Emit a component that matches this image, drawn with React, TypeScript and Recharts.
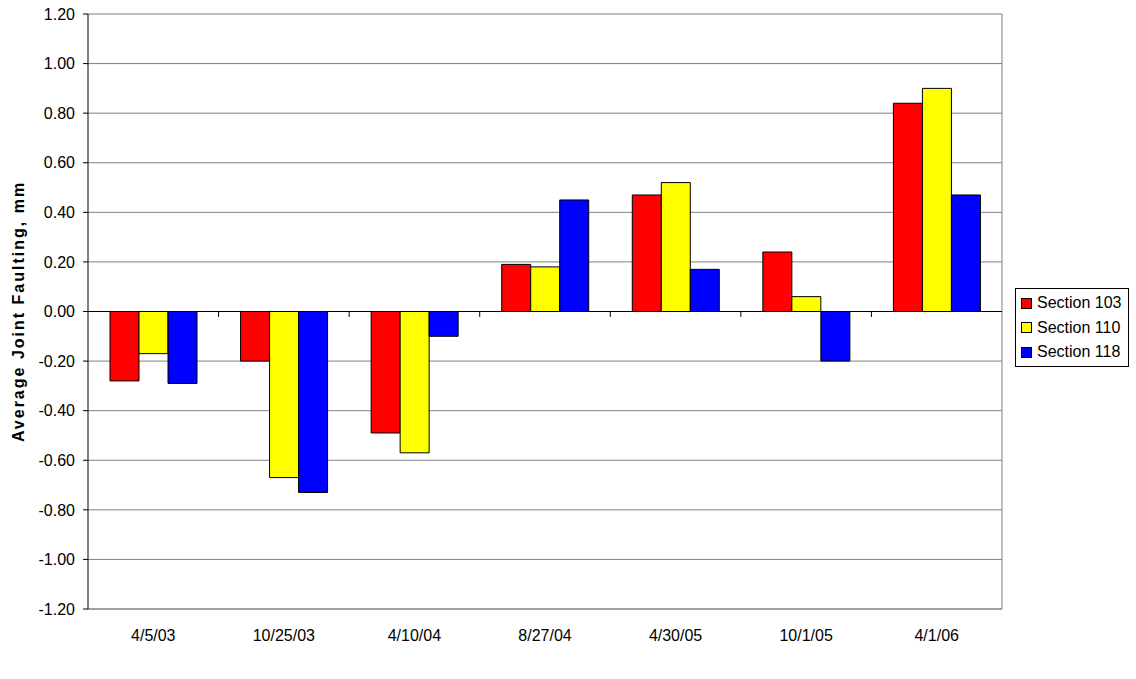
import React from "react";
import { BarChart, Bar, XAxis, YAxis, CartesianGrid, ReferenceLine } from "recharts";

const dates = ["4/5/03", "10/25/03", "4/10/04", "8/27/04", "4/30/05", "10/1/05", "4/1/06"];
const section103 = [-0.28, -0.2, -0.49, 0.19, 0.47, 0.24, 0.84];
const section110 = [-0.17, -0.67, -0.57, 0.18, 0.52, 0.06, 0.9];
const section118 = [-0.29, -0.73, -0.1, 0.45, 0.17, -0.2, 0.47];
const yTicks = [-1.2, -1.0, -0.8, -0.6, -0.4, -0.2, 0, 0.2, 0.4, 0.6, 0.8, 1.0, 1.2];

const series = [
  { key: "s103", name: "Section 103", color: "#ff0000" },
  { key: "s110", name: "Section 110", color: "#ffff00" },
  { key: "s118", name: "Section 118", color: "#0000ff" },
];

const data = dates.map((d, i) => ({
  date: d,
  s103: section103[i],
  s110: section110[i],
  s118: section118[i],
}));

const font = "'Liberation Sans', Arial, sans-serif";

export default function App() {
  return (
    <div style={{ position: "absolute", left: 0, top: 0, width: 1136, height: 679, background: "#fff", fontFamily: font }}>
      <BarChart
        width={1136}
        height={679}
        data={data}
        margin={{ top: 14, right: 134, left: 28, bottom: 40 }}
        barCategoryGap={22}
        barGap={0}
      >
        <CartesianGrid
          stroke="#808080"
          strokeWidth={1}
          verticalCoordinatesGenerator={({ offset }: any) => [offset.left + offset.width]}
        />
        <XAxis
          dataKey="date"
          axisLine={{ stroke: "#808080" }}
          tickLine={false}
          tick={{ fill: "#000", fontSize: 16, fontFamily: font }}
          tickMargin={15}
        />
        <YAxis
          domain={[-1.2, 1.2]}
          ticks={yTicks}
          interval={0}
          width={60}
          axisLine={{ stroke: "#000" }}
          tickLine={{ stroke: "#000" }}
          tickSize={5}
          tickMargin={8}
          tick={{ fill: "#000", fontSize: 16, fontFamily: font }}
          tickFormatter={(v: number) => v.toFixed(2)}
          label={{
            value: "Average Joint Faulting, mm",
            angle: -90,
            position: "insideLeft",
            offset: -10,
            style: { textAnchor: "middle", fontWeight: "bold", fontSize: 16, letterSpacing: 2, fill: "#000", fontFamily: font },
          }}
        />
        <ReferenceLine y={0} stroke="#000" strokeWidth={1} />
        {dates.slice(1).map((d) => (
          <ReferenceLine
            key={d}
            position="start"
            segment={[{ x: d, y: 0 }, { x: d, y: -0.022 }]}
            stroke="#000"
            strokeWidth={1}
          />
        ))}
        {series.map((s) => (
          <Bar
            key={s.key}
            dataKey={s.key}
            name={s.name}
            fill={s.color}
            stroke="#000"
            strokeWidth={1}
            isAnimationActive={false}
          />
        ))}
      </BarChart>
      <div
        style={{
          position: "absolute",
          left: 1015,
          top: 288,
          width: 114,
          height: 79,
          border: "1px solid #000",
          boxSizing: "border-box",
          background: "#fff",
          paddingTop: 2,
        }}
      >
        {series.map((s) => (
          <div key={s.key} style={{ display: "flex", alignItems: "center", height: 24.5, paddingLeft: 5, fontSize: 16, color: "#000" }}>
            <span style={{ display: "inline-block", width: 9, height: 9, background: s.color, border: "1px solid #000", marginRight: 5 }} />
            {s.name}
          </div>
        ))}
      </div>
    </div>
  );
}
